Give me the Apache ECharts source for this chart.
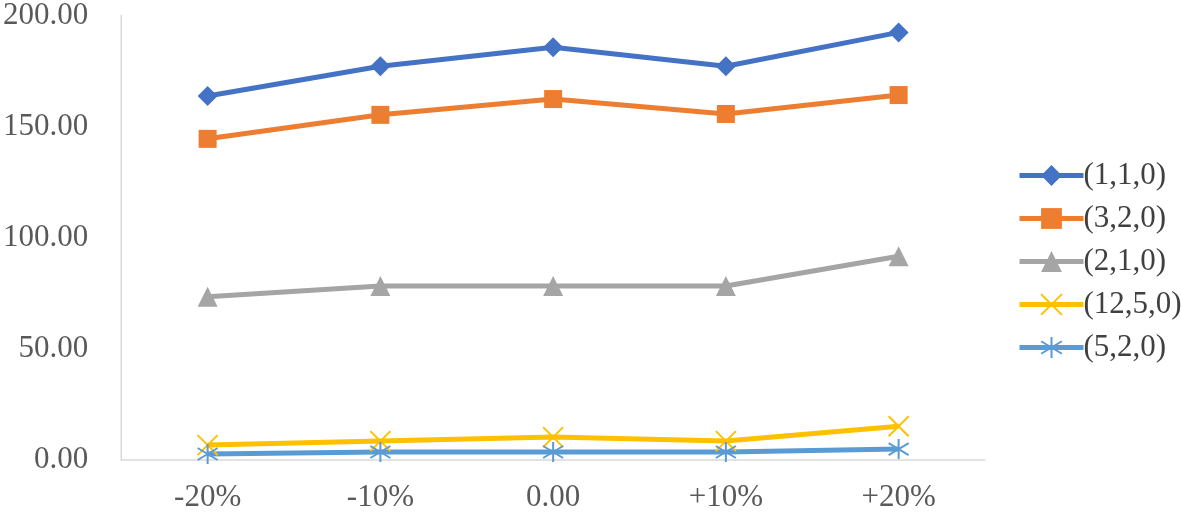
<!DOCTYPE html>
<html><head><meta charset="utf-8">
<script src="https://cdn.jsdelivr.net/npm/echarts@6/dist/echarts.min.js"></script>
<style>html,body{margin:0;padding:0;background:#fff}#c{width:1181px;height:513px}</style>
</head><body><div id="c"></div>
<script>
const categories = ['-20%', '-10%', '0.00', '+10%', '+20%'];
const s110 = [163.8, 177.2, 185.7, 177.2, 192.4];
const s320 = [144.5, 155.3, 162.4, 155.7, 164.2];
const s210 = [73.4, 78.3, 78.3, 78.3, 91.7];
const s1250 = [6.7, 8.5, 10.3, 8.5, 15.2];
const s520 = [2.7, 3.6, 3.6, 3.6, 4.9];
const seriesNames = ['(1,1,0)', '(3,2,0)', '(2,1,0)', '(12,5,0)', '(5,2,0)'];

const X = 'path://M0,0 L10,10 M10,0 L0,10';
const AST = 'path://M5,0 L5,10 M0,2 L10,8 M10,2 L0,8';
const font = '"Liberation Serif", "Times New Roman", serif';

function mk(name, data, color, symbol, size, outline) {
  return {
    name, type: 'line', data, symbol, symbolSize: size,
    lineStyle: { color, width: 5 },
    itemStyle: outline ? { color: 'transparent', borderColor: color, borderWidth: 2 } : { color },
    emphasis: { disabled: true }
  };
}

const chart = echarts.init(document.getElementById('c'));
chart.setOption({
  animation: false,
  grid: { left: 120, right: 196, top: 14, bottom: 52 },
  legend: {
    orient: 'vertical', left: 1012, top: 155, itemGap: 12, itemWidth: 64, itemHeight: 26,
    lineStyle: { width: 5 },
    textStyle: { fontFamily: font, fontSize: 31, lineHeight: 30, color: '#404040', padding: [0, 0, 0, -5] },
    data: seriesNames
  },
  xAxis: {
    type: 'category', data: categories, boundaryGap: true,
    axisLine: { lineStyle: { color: '#d9d9d9', width: 1.5 } },
    axisTick: { show: false },
    axisLabel: { fontFamily: font, fontSize: 31, color: '#595959', margin: 22 }
  },
  yAxis: {
    type: 'value', min: 0, max: 200, interval: 50,
    axisLine: { show: true, lineStyle: { color: '#d9d9d9', width: 1.5 } },
    splitLine: { show: false },
    axisLabel: { fontFamily: font, fontSize: 31, color: '#595959', margin: 33,
      formatter: v => v.toFixed(2) }
  },
  series: [
    mk(seriesNames[0], s110, '#4472c4', 'diamond', 20),
    mk(seriesNames[1], s320, '#ed7d31', 'rect', 18),
    mk(seriesNames[2], s210, '#a5a5a5', 'triangle', 20),
    mk(seriesNames[3], s1250, '#ffc000', X, 20, true),
    mk(seriesNames[4], s520, '#5b9bd5', AST, 20, true)
  ]
});
</script></body></html>
